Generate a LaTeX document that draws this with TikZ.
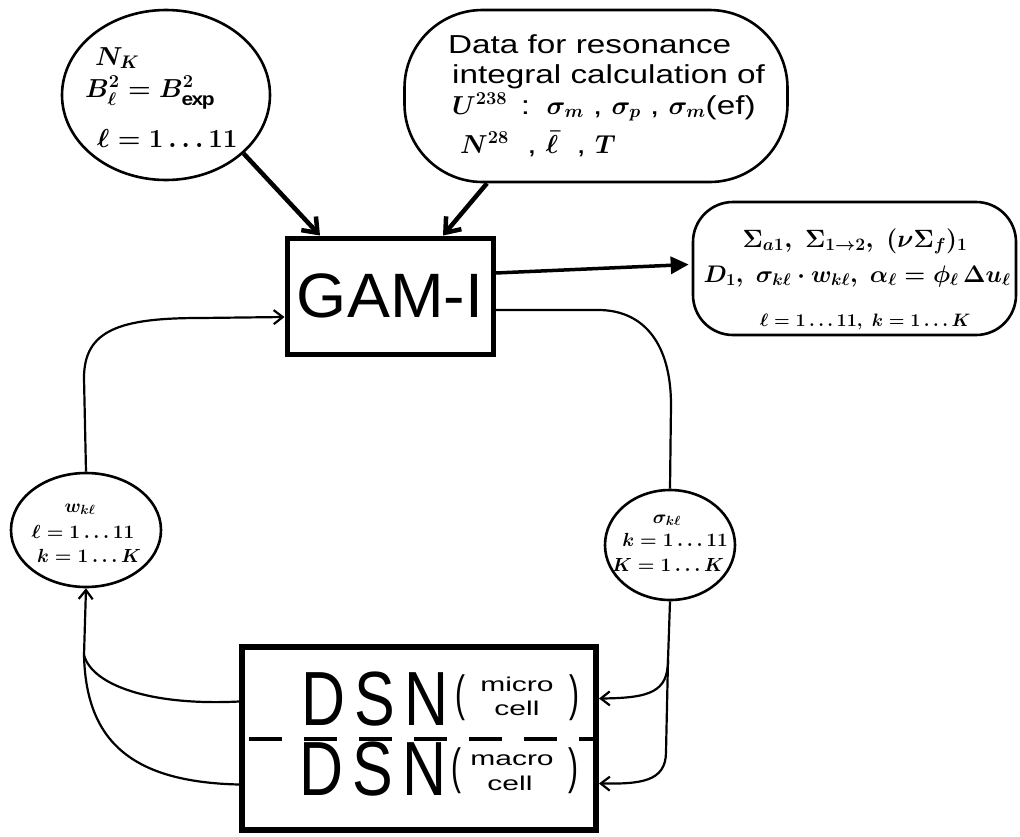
\RequirePackage{fix-cm}
\documentclass[tikz,border=0pt]{standalone}
\usepackage{fontspec}
\setmainfont[FakeStretch=1.15]{Liberation Sans}
\newfontfamily\cellfont[FakeStretch=1.5]{Liberation Sans}
\newfontfamily\datafont[FakeStretch=1.28]{Liberation Sans}
\usetikzlibrary{shapes.geometric,arrows.meta,calc}
\newcommand\fsz[2]{\fontsize{#1}{#2}\selectfont}
\begin{document}
\begin{tikzpicture}[x=1pt,y=-1pt,
  every node/.style={inner sep=0pt},
  blob/.style={draw,line width=2.6pt,ellipse},
  rbox/.style={draw,line width=2.6pt,rectangle,rounded corners=#1},
  prog/.style={draw,rectangle},
  conn/.style={line width=2.2pt},
  feed/.style={conn,-{Straight Barb[length=9pt,width=14pt]}},
  thickarr/.style={line width=4.5pt,-{Straight Barb[length=13pt,width=20pt]}},
  outarr/.style={line width=3.5pt,-{Triangle[length=18pt,width=17pt]}},
  lbl/.style={inner sep=0pt},
  big/.style={font=\datafont\fsz{26}{30}\boldmath},
  mid/.style={font=\fsz{26}{30}\boldmath},
  sml/.style={font=\fsz{19}{24}\boldmath},
  dsnf/.style={font=\fsz{53}{56}},
  cellf/.style={font=\cellfont\fsz{20}{22}},
  paren/.style={font=\fsz{26}{26}},
]
\useasboundingbox[fill=white] (0,0) rectangle (1020,836);

% shapes
\node[blob,minimum width=208pt,minimum height=170pt] (e1) at (166,95) {};
\node[rbox=78pt,minimum width=383pt,minimum height=172pt] (e2) at (596,96) {};
\node[prog,line width=5pt,minimum width=206pt,minimum height=116pt,
      font=\fsz{56}{60}] (gam) at (390,296) {\scalebox{1}[1.12]{GAM-I}};
\node[rbox=40pt,minimum width=323pt,minimum height=133pt] (out) at (854.5,268.5) {};
\node[blob,minimum width=150pt,minimum height=114pt] (wel) at (86,530) {};
\node[blob,minimum width=130pt,minimum height=110pt] (sel) at (670,545) {};
\node[prog,line width=6pt,minimum width=354pt,minimum height=183pt] (dsn) at (419,738.5) {};

% texts of ellipse 1
\node[lbl,mid,anchor=base west] (t1a) at (95,65) {$N_K$};
\node[lbl,mid,anchor=base west] (t1b) at (85,97) {$B_\ell^2 = B^2_{\mathrm{exp}}$};
\node[lbl,mid,anchor=base west] (t1c) at (97,147) {$\ell = 1\ldots11$};

% texts of ellipse 2
\node[lbl,big,anchor=base west] (t2a) at (448,53) {Data for resonance};
\node[lbl,big,anchor=base west] (t2b) at (452,83) {integral calculation of};
\node[lbl,big,anchor=base west] (t2c) at (452,114) {$U^{238}$ \,:\, $\sigma_m$ , $\sigma_p$ , $\sigma_m$(ef)};
\node[lbl,big,anchor=base west] (t2d) at (460,153) {$N^{28}$ \ , $\bar{\ell}$ \ , $T$};

% output texts
\node[lbl,font=\fsz{25}{30}\boldmath,anchor=base] (t3a) at (855,247) {$\Sigma_{a1},\ \Sigma_{1\to2},\ (\nu\Sigma_f)_1$};
\node[lbl,font=\fsz{24}{30}\boldmath,anchor=base] (t3b) at (857,282) {$D_1,\ \sigma_{k\ell}\cdot w_{k\ell},\ \alpha_\ell = \phi_\ell\,\Delta u_\ell$};
\node[lbl,font=\fsz{18}{24}\boldmath,anchor=base] (t3c) at (865,326) {$\ell = 1\ldots 11,\ k = 1\ldots K$};

% w ellipse texts
\node[lbl,sml,anchor=base] (t4a) at (80,512) {$w_{k\ell}$};
\node[lbl,sml,anchor=base] (t4b) at (83,538) {$\ell = 1\ldots 11$};
\node[lbl,sml,anchor=base] (t4c) at (89,562) {$k = 1\ldots K$};

% sigma ellipse texts
\node[lbl,sml,anchor=base] (t5a) at (667,523) {$\sigma_{k\ell}$};
\node[lbl,sml,anchor=base] (t5b) at (675,546) {$k = 1\ldots 11$};
\node[lbl,sml,anchor=base] (t5c) at (668,571) {$K = 1\ldots K$};

% DSN texts
\node[lbl,dsnf] (d1) at (375,699) {\scalebox{1}[1.45]{D\,S\,N}};
\node[lbl,paren] (p1l) at (460,698) {\scalebox{1}[1.9]{(}};
\node[lbl,cellf,anchor=base] (m1a) at (517,691) {micro};
\node[lbl,cellf,anchor=base] (m1b) at (517,715) {cell};
\node[lbl,paren] (p1r) at (574,698) {\scalebox{1}[1.9]{)}};
\node[lbl,dsnf] (d2) at (373,769) {\scalebox{1}[1.45]{D\,S\,N}};
\node[lbl,paren] (p2l) at (456,771) {\scalebox{1}[1.9]{(}};
\node[lbl,cellf,anchor=base] (m2a) at (512,765) {macro};
\node[lbl,cellf,anchor=base] (m2b) at (510,790) {cell};
\node[lbl,paren] (p2r) at (573,771) {\scalebox{1}[1.9]{)}};
\draw[line width=4pt,dash pattern=on 33pt off 22pt] ($(dsn.west)+(10,0)$) -- (dsn.east);

% connectors
\draw[thickarr] (e1.-37) -- ($(gam.north)+(-70,0)$);
\draw[thickarr] ($(e2.south)+(-109,0)$) -- ($(gam.north)+(53,0)$);
\draw[outarr] ($(gam.east)+(0,-23)$) -- ($(out.west)+(-3,-4)$);

\coordinate (r1) at (600,310);
\coordinate (r2) at (671,405);
\draw[conn] ($(gam.east)+(0,14)$) -- (r1) .. controls (645,311) and (671,345) .. (r2) -- (sel.north);

\coordinate (l1) at (84,378);
\draw[feed] (wel.north) -- (l1) .. controls (84,330) and (120,318) .. (200,318) -- ($(gam.west)+(0,21)$);

\coordinate (j1) at (84,655);
\draw[feed] (j1) -- (wel.south);
\draw[conn] ($(dsn.west)+(0,-37)$) .. controls (150,706) and (92,685) .. (j1);
\draw[conn] ($(dsn.west)+(0,46)$) .. controls (130,782) and (86,740) .. (j1);

\coordinate (j2) at (668,660);
\coordinate (j3) at (666,752);
\draw[conn] (sel.south) -- (j2);
\draw[feed] (j2) .. controls (668,692) and (650,698) .. ($(dsn.east)+(0,-40)$);
\draw[feed] (j2) -- (j3) .. controls (666,782) and (640,784) .. ($(dsn.east)+(0,45)$);
\end{tikzpicture}
\end{document}
